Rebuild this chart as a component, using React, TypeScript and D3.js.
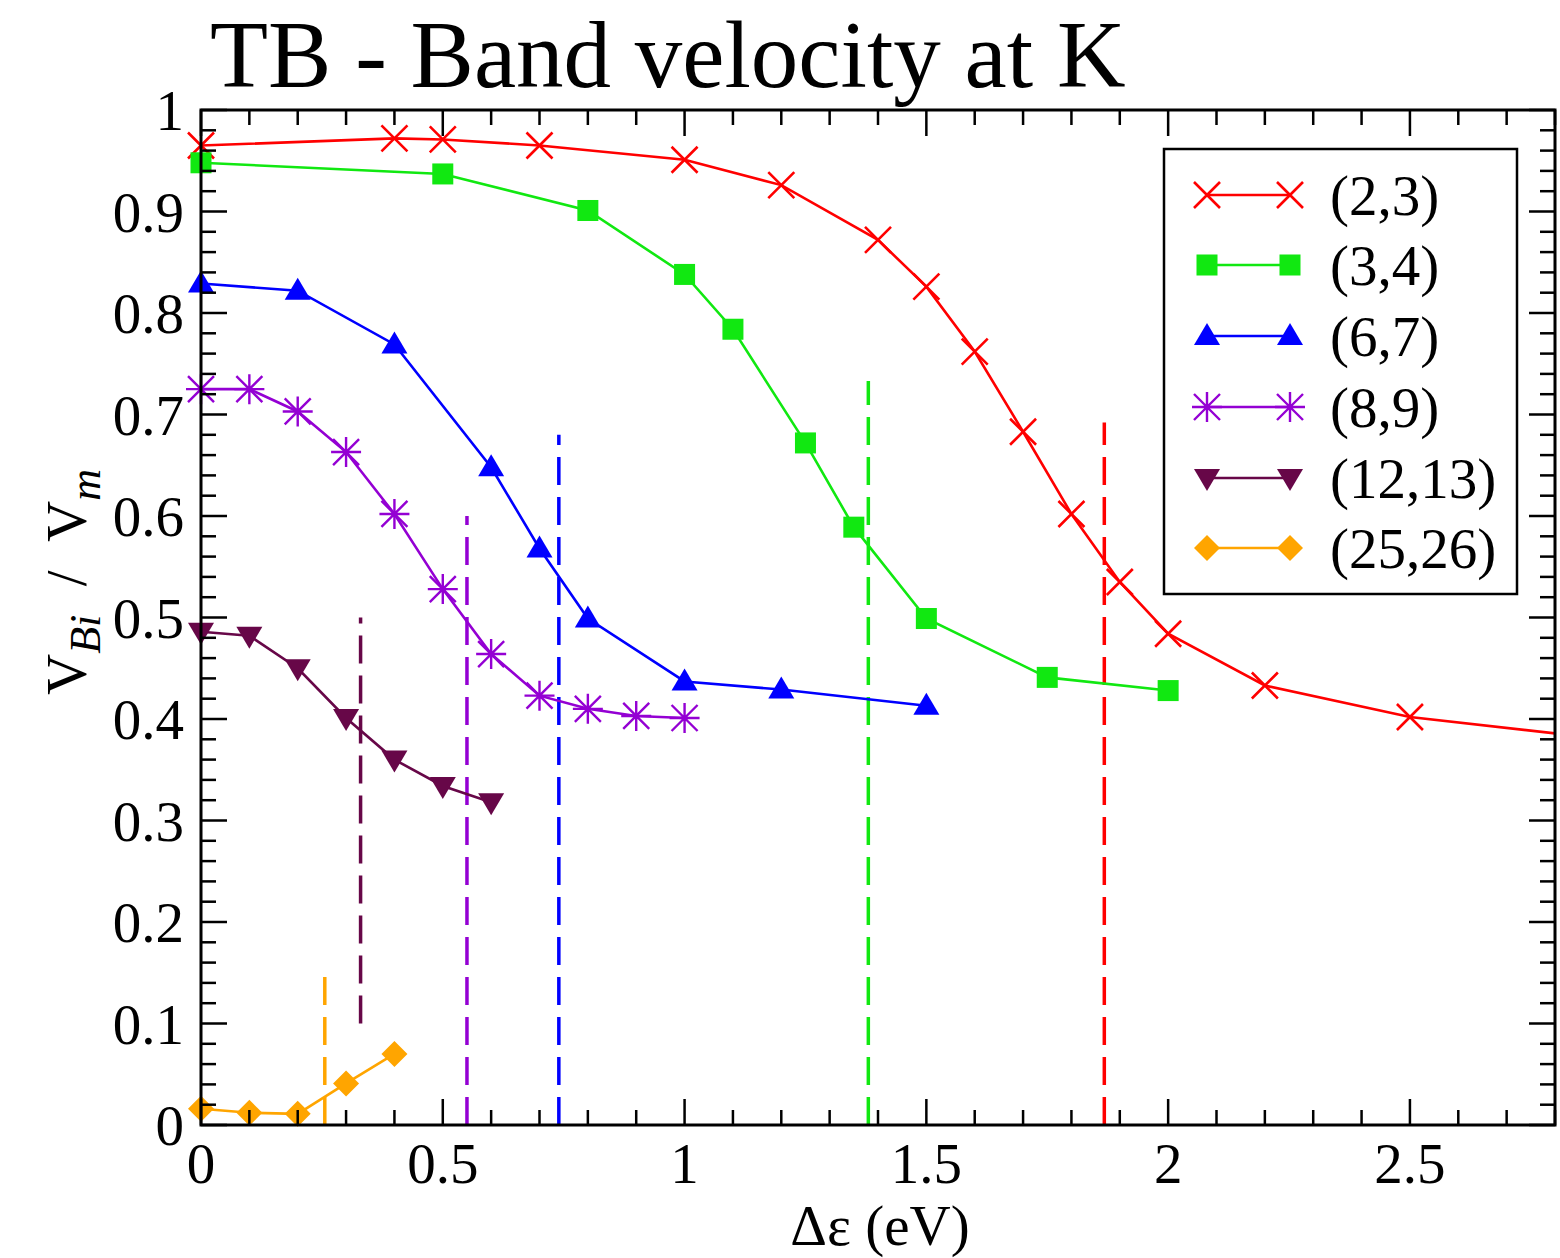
import * as d3 from 'd3'

// ---- data ----
const xs23 = [0, 0.4, 0.5, 0.7, 1.0, 1.2, 1.4, 1.5, 1.6, 1.7, 1.8, 1.9, 2.0, 2.2, 2.5, 3.0]
const ys23 = [0.965, 0.972, 0.971, 0.965, 0.951, 0.926, 0.872, 0.826, 0.762, 0.683, 0.602, 0.535, 0.484, 0.433, 0.402, 0.375]

const xs34 = [0, 0.5, 0.8, 1.0, 1.1, 1.25, 1.35, 1.5, 1.75, 2.0]
const ys34 = [0.948, 0.937, 0.901, 0.838, 0.784, 0.672, 0.589, 0.499, 0.441, 0.428]

const xs67 = [0, 0.2, 0.4, 0.6, 0.7, 0.8, 1.0, 1.2, 1.5]
const ys67 = [0.829, 0.822, 0.769, 0.648, 0.568, 0.499, 0.437, 0.429, 0.413]

const xs89 = [0, 0.1, 0.2, 0.3, 0.4, 0.5, 0.6, 0.7, 0.8, 0.9, 1.0]
const ys89 = [0.725, 0.725, 0.703, 0.663, 0.602, 0.528, 0.464, 0.423, 0.410, 0.403, 0.401]

const xs1213 = [0, 0.1, 0.2, 0.3, 0.4, 0.5, 0.6]
const ys1213 = [0.486, 0.482, 0.450, 0.401, 0.360, 0.334, 0.318]

const xs2526 = [0, 0.1, 0.2, 0.3, 0.4]
const ys2526 = [0.016, 0.012, 0.011, 0.041, 0.070]

const seriesNames = ['(2,3)', '(3,4)', '(6,7)', '(8,9)', '(12,13)', '(25,26)']
const seriesColors = ['#ff0000', '#11e811', '#0000ff', '#9400d3', '#670748', '#ffa500']
const seriesMarkers = ['x', 'square', 'triUp', 'star', 'triDown', 'diamond']

// dashed verticals: x position, y bottom, y top
const cutX = [1.868, 1.38, 0.74, 0.55, 0.33, 0.256]
const cutY0 = [0, 0, 0, 0, 0.1, 0]
const cutY1 = [0.692, 0.733, 0.68, 0.6, 0.5, 0.148]

const xMajor = [0, 0.5, 1, 1.5, 2, 2.5]
const yMajor = [0, 0.1, 0.2, 0.3, 0.4, 0.5, 0.6, 0.7, 0.8, 0.9, 1]

const W = 1560
const H = 1258
const margin = { left: 201, right: 5, top: 110, bottom: 133 }

const x = d3.scaleLinear().domain([0, 2.8]).range([margin.left, W - margin.right])
const y = d3.scaleLinear().domain([0, 1]).range([H - margin.bottom, margin.top])

const serif = 'Liberation Serif, Times New Roman, serif'

function Marker({ kind, cx, cy, color }: { kind: string; cx: number; cy: number; color: string }) {
  if (kind === 'x') {
    const s = 13
    return (
      <path d={`M${cx - s},${cy - s}L${cx + s},${cy + s}M${cx - s},${cy + s}L${cx + s},${cy - s}`}
        stroke={color} strokeWidth={2.6} fill="none" />
    )
  }
  if (kind === 'square') {
    return <rect x={cx - 10.5} y={cy - 10.5} width={21} height={21} fill={color} />
  }
  if (kind === 'triUp') {
    return <path d={`M${cx},${cy - 13}L${cx + 13},${cy + 9}L${cx - 13},${cy + 9}Z`} fill={color} />
  }
  if (kind === 'triDown') {
    return <path d={`M${cx},${cy + 13}L${cx + 13},${cy - 9}L${cx - 13},${cy - 9}Z`} fill={color} />
  }
  if (kind === 'diamond') {
    return <path d={`M${cx},${cy - 13}L${cx + 13},${cy}L${cx},${cy + 13}L${cx - 13},${cy}Z`} fill={color} />
  }
  // star (asterisk)
  const s = 15
  const d = 13
  return (
    <path
      d={`M${cx},${cy - s}L${cx},${cy + s}M${cx - s},${cy}L${cx + s},${cy}M${cx - d},${cy - d}L${cx + d},${cy + d}M${cx - d},${cy + d}L${cx + d},${cy - d}`}
      stroke={color} strokeWidth={2.4} fill="none" />
  )
}

export default function App() {
  const allX = [xs23, xs34, xs67, xs89, xs1213, xs2526]
  const allY = [ys23, ys34, ys67, ys89, ys1213, ys2526]

  const line = d3.line<[number, number]>().x(d => x(d[0])).y(d => y(d[1]))

  const xMinor = d3.range(0, 28.01, 1).map(v => v / 10)
  const yMinor = d3.range(0, 50.01, 1).map(v => v / 50)
  const x0 = x.range()[0], x1 = x.range()[1]
  const y0 = y.range()[0], y1 = y.range()[1]

  const legX = 1207
  const legX2 = 1290
  const legY = [195, 265, 336, 407, 478, 548]

  return (
    <div style={{ position: 'absolute', left: 0, top: 0 }}>
      <svg width={W} height={H} style={{ display: 'block', background: '#fff' }}>
        <defs>
          <clipPath id="plot">
            <rect x={x0} y={y1} width={x1 - x0} height={y0 - y1} />
          </clipPath>
        </defs>

        {/* title */}
        <text x={210} y={87} fontFamily={serif} fontSize={95} fill="#000">TB - Band velocity at K</text>

        {/* dashed verticals */}
        {cutX.map((cx, i) => (
          <line key={'c' + i} x1={x(cx)} x2={x(cx)} y1={y(cutY0[i])} y2={y(cutY1[i])}
            stroke={seriesColors[i]} strokeWidth={3.5} strokeDasharray="28,12" />
        ))}

        {/* series */}
        <g clipPath="url(#plot)">
          {allX.map((xv, i) => {
            const pts = xv.map((v, j) => [v, allY[i][j]] as [number, number])
            return (
              <path key={'l' + i} d={line(pts) || ''} fill="none" stroke={seriesColors[i]} strokeWidth={2.6} />
            )
          })}
        </g>
        {allX.map((xv, i) => (
          <g key={'m' + i}>
            {xv.filter(v => v <= 2.8).map((v, j) => (
              <Marker key={j} kind={seriesMarkers[i]} cx={x(v)} cy={y(allY[i][j])} color={seriesColors[i]} />
            ))}
          </g>
        ))}

        {/* frame and ticks */}
        <rect x={x0} y={y1} width={x1 - x0} height={y0 - y1} fill="none" stroke="#000" strokeWidth={3} />
        {xMinor.map((v, i) => {
          const major = xMajor.some(m => Math.abs(m - v) < 1e-6)
          const len = major ? 26 : 15
          return (
            <g key={'xt' + i} stroke="#000" strokeWidth={2.5}>
              <line x1={x(v)} x2={x(v)} y1={y0} y2={y0 - len} />
              <line x1={x(v)} x2={x(v)} y1={y1} y2={y1 + len} />
            </g>
          )
        })}
        {yMinor.map((v, i) => {
          const major = yMajor.some(m => Math.abs(m - v) < 1e-6)
          const len = major ? 26 : 15
          return (
            <g key={'yt' + i} stroke="#000" strokeWidth={2.5}>
              <line x1={x0} x2={x0 + len} y1={y(v)} y2={y(v)} />
              <line x1={x1} x2={x1 - len} y1={y(v)} y2={y(v)} />
            </g>
          )
        })}

        {/* tick labels */}
        {xMajor.map(v => (
          <text key={'xl' + v} x={x(v)} y={y0 + 58} textAnchor="middle" fontFamily={serif} fontSize={57}>
            {String(v)}
          </text>
        ))}
        {yMajor.map(v => (
          <text key={'yl' + v} x={x0 - 17} y={y(v) + 20} textAnchor="end" fontFamily={serif} fontSize={57}>
            {String(v)}
          </text>
        ))}

        {/* axis labels */}
        <text x={880} y={1245} textAnchor="middle" fontFamily={serif} fontSize={57}>
          Δε  (eV)
        </text>
        <text transform="translate(86,582) rotate(-90)" textAnchor="middle" fontFamily={serif} fontSize={57}>
          <tspan>V</tspan>
          <tspan fontSize={44} fontStyle="italic" dy={14}>Bi</tspan>
          <tspan dy={-14}>{'\u00a0\u00a0/\u00a0\u00a0V'}</tspan>
          <tspan fontSize={44} fontStyle="italic" dy={14}>m</tspan>
        </text>

        {/* legend */}
        <rect x={1164} y={149} width={353} height={445} fill="#fff" stroke="#000" strokeWidth={2.5} />
        {seriesNames.map((name, i) => (
          <g key={'lg' + i}>
            <line x1={legX} x2={legX2} y1={legY[i]} y2={legY[i]} stroke={seriesColors[i]} strokeWidth={2.6} />
            <Marker kind={seriesMarkers[i]} cx={legX} cy={legY[i]} color={seriesColors[i]} />
            <Marker kind={seriesMarkers[i]} cx={legX2} cy={legY[i]} color={seriesColors[i]} />
            <text x={1330} y={legY[i] + 20} fontFamily={serif} fontSize={57}>{name}</text>
          </g>
        ))}
      </svg>
    </div>
  )
}
